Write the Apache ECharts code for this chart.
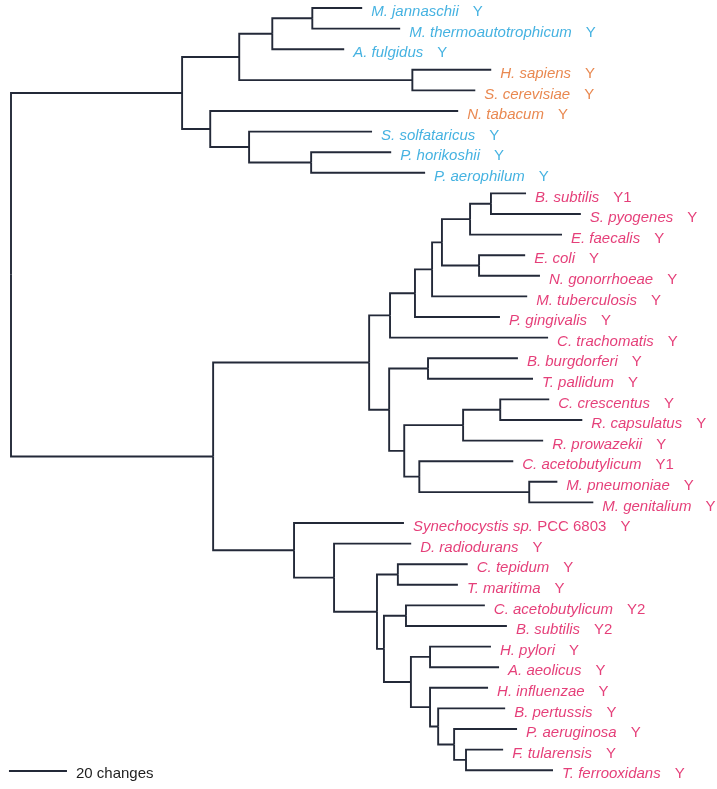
<!DOCTYPE html>
<html>
<head>
<meta charset="utf-8">
<script src="https://cdn.jsdelivr.net/npm/echarts@6/dist/echarts.min.js"></script>
<style>html,body{margin:0;padding:0;background:#fff}#c{width:717px;height:789px}</style>
</head>
<body>
<div id="c"></div>
<script>
// ---- DATA ----
const taxa = ["M. jannaschii","M. thermoautotrophicum","A. fulgidus","H. sapiens","S. cerevisiae","N. tabacum","S. solfataricus","P. horikoshii","P. aerophilum",
  "B. subtilis","S. pyogenes","E. faecalis","E. coli","N. gonorrhoeae","M. tuberculosis","P. gingivalis","C. trachomatis","B. burgdorferi","T. pallidum",
  "C. crescentus","R. capsulatus","R. prowazekii","C. acetobutylicum","M. pneumoniae","M. genitalium",
  "Synechocystis sp.","D. radiodurans","C. tepidum","T. maritima","C. acetobutylicum","B. subtilis","H. pylori","A. aeolicus","H. influenzae",
  "B. pertussis","P. aeruginosa","F. tularensis","T. ferrooxidans"];
const strain = {25: "PCC 6803"};
const tags = ["Y","Y","Y","Y","Y","Y","Y","Y","Y",
  "Y1","Y","Y","Y","Y","Y","Y","Y","Y","Y",
  "Y","Y","Y","Y1","Y","Y",
  "Y","Y","Y","Y","Y2","Y2","Y","Y","Y",
  "Y","Y","Y","Y"];
const groups = ["A","A","A","E","E","E","A","A","A",
  "B","B","B","B","B","B","B","B","B","B","B","B","B","B","B","B",
  "B","B","B","B","B","B","B","B","B","B","B","B","B"];
// Newick pieces: leaf = index into taxa, branch lengths in "changes"
const topClade = "(((((0:17.2,1:30.3):13.8,2:24.8):11.4,(3:27.2,4:21.7):59.7):19.7,(5:85.5,(6:42.4,(7:27.6,8:39.3):21.4):13.4):9.7)";
const bactUpperA = "((((((9:12.1,10:31.0):7.2,11:31.7):9.7,(12:15.9,13:21.0):12.8):3.4,14:32.8):5.9,15:29.3):8.6,16:54.5)";
const bactUpperB = "((17:31.0,18:36.2):13.4,(((19:16.9,20:28.3):12.8,21:27.6):20.3,(22:32.4,(23:9.7,24:22.1):37.9):5.2):5.2)";
const bactLower = "(25:37.9,(26:26.6,((27:24.1,28:20.7):7.2,((29:27.2,30:34.8):7.6,((31:21.0,32:23.8):6.6,(33:20.0,(34:23.1,(35:21.7,(36:12.8,37:30.0):4.1):5.5):2.8):6.6):9.3):2.4):14.8):13.8)";
const newick = "(" + topClade + ":59.0,((" + bactUpperA + ":7.2," + bactUpperB + ":6.9):53.8," + bactLower + ":27.9):69.7);";
const scaleBarChanges = 20;
const scaleBarLabel = "20 changes";

// ---- PARSE / LAYOUT ----
function parse(s){
  let i=0;
  function node(){
    const n={children:[]};
    if(s[i]==='('){ i++; n.children.push(node()); while(s[i]===','){ i++; n.children.push(node()); } i++; }
    let name=''; while(i<s.length && !':,();'.includes(s[i])) name+=s[i++];
    if(name!=='') n.leaf=+name;
    n.len=0;
    if(s[i]===':'){ i++; let num=''; while(i<s.length && !',();'.includes(s[i])) num+=s[i++]; n.len=+num; }
    return n;
  }
  return node();
}
const root = parse(newick);
function layout(n, px){
  n.x = px + n.len;
  if(n.children.length){
    n.children.forEach(c=>layout(c, n.x));
    n.y = (n.children[0].y + n.children[n.children.length-1].y)/2;
  } else n.y = n.leaf;
}
root.len = 0; layout(root, 0);
const branches = [], leaves = [];
(function walk(n){
  n.children.forEach(c=>{ branches.push([n.x, n.y, c.x, c.y]); walk(c); });
  if(!n.children.length) leaves.push(n);
})(root);

const colors = {A:'#179fd9', E:'#e36a24', B:'#de0f57'};
const FONT = '"Liberation Sans", Arial, sans-serif';
function labelFor(idx){
  const col = colors[groups[idx]];
  const rich = {
    i:{fontStyle:'italic', color:col, fontSize:15, fontFamily:FONT},
    r:{color:col, fontSize:15, fontFamily:FONT},
    g:{width:14, fontSize:15},
    n:{color:col, fontSize:15, fontFamily:FONT}
  };
  let t = '{i|' + taxa[idx] + '}';
  if(strain[idx]) t += '{r| ' + strain[idx] + '}';
  t += '{g| }{n|' + tags[idx] + '}';
  return {show:true, position:'right', distance:9, offset:[0,4], formatter:t, rich:rich};
}
const leafData = leaves.map(l=>({value:[l.x, l.y], label:labelFor(l.leaf)}));

const LINE = '#232938';
const k = 2.9; // px per change
const chart = echarts.init(document.getElementById('c'), null, {renderer:'canvas'});
chart.setOption({
  animation:false,
  grid:{left:11 - k, right:10, top:8, bottom:18.8},
  xAxis:{type:'value', min:-1, max:240, show:false},
  yAxis:{type:'value', min:0, max:37, inverse:true, show:false},
  series:[
    {
      type:'custom', clip:false, silent:true,
      data: branches,
      encode:{x:[0,2], y:[1,3]},
      renderItem:function(params, api){
        const p1 = api.coord([api.value(0), api.value(1)]);
        const p2 = api.coord([api.value(0), api.value(3)]);
        const p3 = api.coord([api.value(2), api.value(3)]);
        return {type:'polyline', shape:{points:[p1,p2,p3]}, style:{stroke:LINE, lineWidth:1.9, fill:null}};
      }
    },
    {
      type:'scatter', symbolSize:0, clip:false, silent:true,
      data: leafData
    },
    {
      type:'line', symbol:'none', clip:false, silent:true,
      lineStyle:{color:LINE, width:1.9},
      data:[[-0.7, 37.04], [-0.7 + scaleBarChanges, 37.04]],
      endLabel:{show:true, formatter:scaleBarLabel, distance:9, offset:[0,3], color:'#1e1e1e', fontSize:15, fontFamily:FONT}
    }
  ]
});
</script>
</body>
</html>
